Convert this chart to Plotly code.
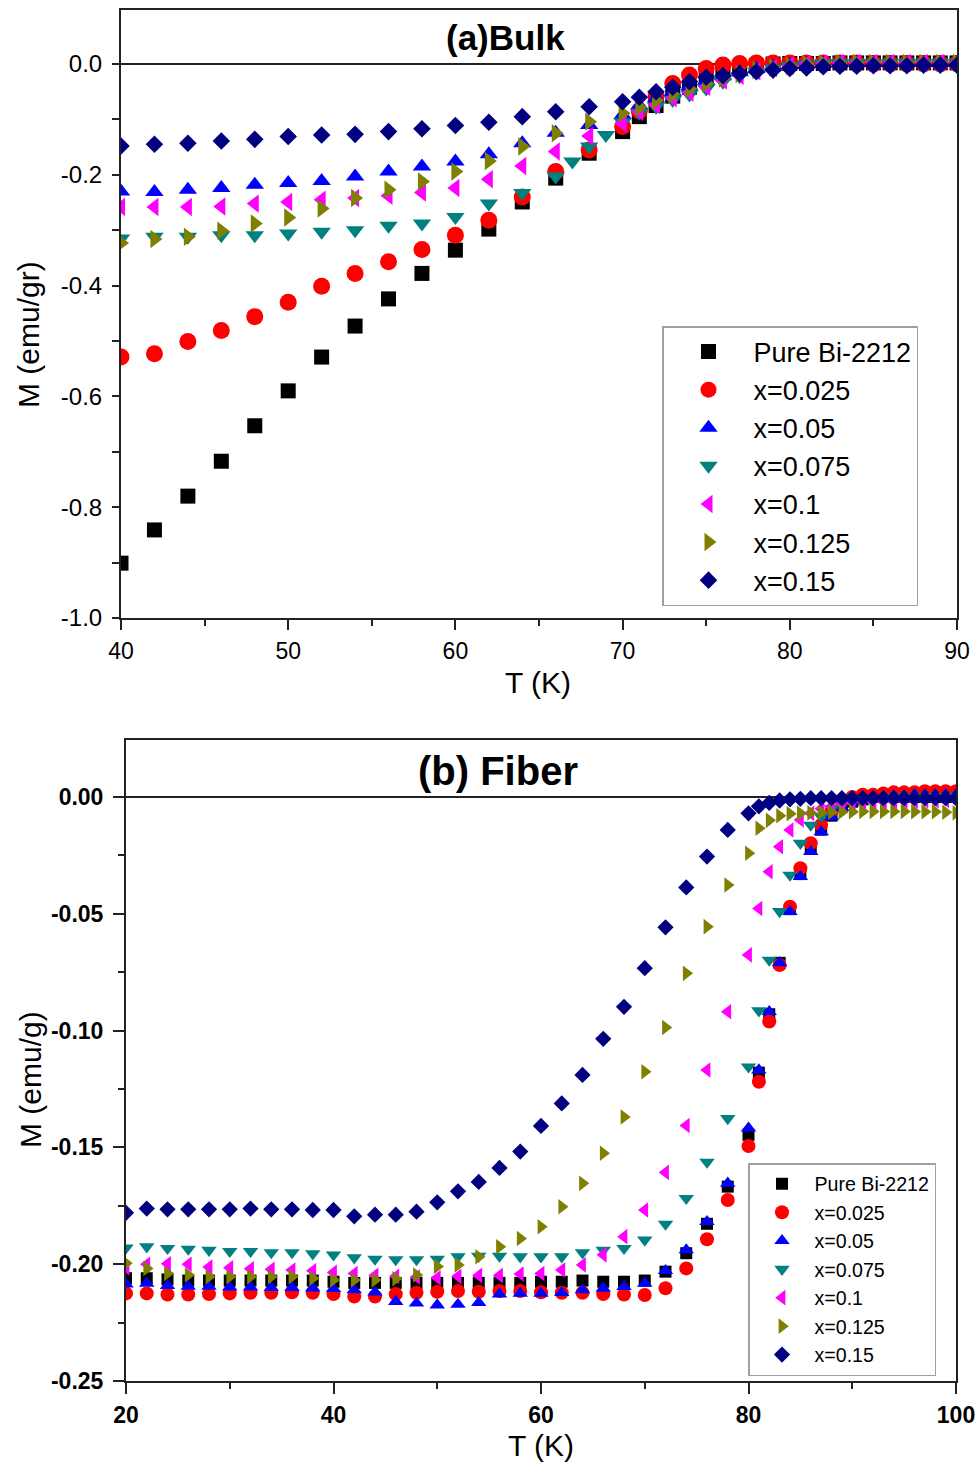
import plotly.graph_objects as go

# ---------------- (a) Bulk samples ----------------
T_bulk = [40, 42, 44, 46, 48, 50, 52, 54, 56, 58, 60, 62, 64, 66, 67, 68, 69, 70,
          71, 72, 73, 74, 75, 76, 77, 78, 79, 80, 81, 82, 83, 84, 85, 86, 87, 88, 89, 90]

M_bulk_pure = [-0.901, -0.841, -0.780, -0.717, -0.653, -0.590, -0.529, -0.473, -0.424, -0.378,
               -0.336, -0.298, -0.249, -0.206, None, -0.161, None, -0.122,
               -0.095, -0.075, -0.058, -0.042, -0.028, -0.016, -0.008, -0.003, 0.000, 0.001,
               0.001, 0.001, 0.002, 0.002, 0.002, 0.002, 0.002, 0.002, 0.002, 0.002]
M_bulk_025 = [-0.529, -0.523, -0.501, -0.481, -0.456, -0.430, -0.401, -0.378, -0.357, -0.335,
              -0.309, -0.282, -0.240, -0.194, None, -0.155, None, -0.113,
              -0.085, -0.058, -0.035, -0.020, -0.008, -0.002, 0.001, 0.002, 0.002, 0.002,
              0.002, 0.002, 0.002, 0.002, 0.001, 0.001, 0.001, 0.001, 0.001, 0.001]
M_bulk_050 = [-0.230, -0.231, -0.227, -0.224, -0.218, -0.215, -0.211, -0.203, -0.194, -0.185,
              -0.176, -0.163, -0.143, -0.124, None, -0.110, None, -0.092,
              -0.075, -0.062, -0.050, -0.040, -0.030, -0.022, -0.015, -0.009, -0.005, -0.002,
              0.000, 0.001, 0.002, 0.002, 0.002, 0.002, 0.002, 0.002, 0.002, 0.002]
M_bulk_075 = [-0.315, -0.312, -0.312, -0.309, -0.309, -0.306, -0.303, -0.300, -0.292, -0.288,
              -0.276, -0.252, -0.233, -0.203, -0.176, -0.149, -0.128, -0.105,
              -0.088, -0.077, -0.065, -0.055, -0.044, -0.032, -0.022, -0.014, -0.008, -0.004,
              -0.001, 0.001, 0.002, 0.002, 0.002, 0.002, 0.002, 0.002, 0.002, 0.002]
M_bulk_100 = [-0.258, -0.258, -0.258, -0.257, -0.252, -0.249, -0.245, -0.242, -0.238, -0.232,
              -0.224, -0.208, -0.184, -0.158, None, -0.130, None, -0.107,
              -0.086, -0.074, -0.062, -0.052, -0.041, -0.030, -0.021, -0.013, -0.007, -0.003,
              0.000, 0.001, 0.002, 0.002, 0.002, 0.002, 0.002, 0.002, 0.002, 0.002]
M_bulk_125 = [-0.323, -0.316, -0.312, -0.301, -0.288, -0.277, -0.261, -0.242, -0.227, -0.212,
              -0.194, -0.175, -0.149, -0.125, None, -0.104, None, -0.089,
              -0.078, -0.066, -0.055, -0.045, -0.035, -0.026, -0.018, -0.011, -0.006, -0.003,
              0.000, 0.001, 0.002, 0.002, 0.002, 0.002, 0.002, 0.002, 0.002, 0.002]
M_bulk_150 = [-0.148, -0.145, -0.143, -0.139, -0.136, -0.131, -0.128, -0.127, -0.122, -0.117,
              -0.111, -0.105, -0.095, -0.086, None, -0.077, None, -0.068,
              -0.060, -0.050, -0.042, -0.032, -0.024, -0.021, -0.017, -0.014, -0.011, -0.008,
              -0.007, -0.005, -0.004, -0.004, -0.003, -0.003, -0.003, -0.002, -0.002, -0.002]

# ---------------- (b) Fiber samples ----------------
T_fiber = [20, 22, 24, 26, 28, 30, 32, 34, 36, 38, 40, 42, 44, 46, 48, 50, 52, 54, 56, 58,
           60, 62, 64, 66, 68, 70, 72, 74, 76, 78, 80,
           81, 82, 83, 84, 85, 86, 87, 88, 89, 90, 91, 92, 93, 94, 95, 96, 97, 98, 99, 100]

M_fiber_pure = [-0.2060, -0.2060, -0.2065, -0.2070, -0.2070, -0.2070, -0.2070, -0.2070, -0.2070, -0.2070,
                -0.2075, -0.2080, -0.2080, -0.2080, -0.2080, -0.2080, -0.2080, -0.2080, -0.2080, -0.2080,
                -0.2075, -0.2075, -0.2070, -0.2075, -0.2075, -0.2070, -0.2032, -0.1953, -0.1827, -0.1668, -0.1446,
                -0.1180, -0.0930, -0.0710, -0.0480, -0.0330, -0.0220, -0.0140, -0.0080, -0.0040, -0.0020,
                -0.0010, 0.0000, 0.0000, 0.0000, 0.0000, 0.0000, 0.0000, 0.0000, 0.0000, 0.0000]
M_fiber_025 = [-0.2125, -0.2125, -0.2130, -0.2130, -0.2128, -0.2125, -0.2122, -0.2122, -0.2120, -0.2122,
               -0.2128, -0.2138, -0.2138, -0.2128, -0.2122, -0.2118, -0.2115, -0.2118, -0.2115, -0.2115,
               -0.2120, -0.2122, -0.2122, -0.2128, -0.2130, -0.2132, -0.2103, -0.2018, -0.1893, -0.1725, -0.1494,
               -0.1219, -0.0961, -0.0719, -0.0470, -0.0305, -0.0198, -0.0120, -0.0060, -0.0020, 0.0000,
               0.0010, 0.0010, 0.0015, 0.0020, 0.0020, 0.0020, 0.0025, 0.0025, 0.0025, 0.0025]
M_fiber_050 = [-0.2085, -0.2082, -0.2092, -0.2095, -0.2095, -0.2098, -0.2098, -0.2100, -0.2100, -0.2102,
               -0.2105, -0.2110, -0.2120, -0.2160, -0.2167, -0.2175, -0.2172, -0.2165, -0.2128, -0.2125,
               -0.2125, -0.2122, -0.2110, -0.2103, -0.2096, -0.2082, -0.2028, -0.1939, -0.1818, -0.1654, -0.1418,
               -0.1169, -0.0919, -0.0710, -0.0491, -0.0341, -0.0234, -0.0149, -0.0085, -0.0045, -0.0020,
               -0.0010, 0.0000, 0.0000, 0.0005, 0.0005, 0.0010, 0.0010, 0.0010, 0.0010, 0.0010]
M_fiber_075 = [-0.1930, -0.1925, -0.1932, -0.1935, -0.1940, -0.1945, -0.1945, -0.1950, -0.1950, -0.1955,
               -0.1960, -0.1972, -0.1978, -0.1980, -0.1980, -0.1978, -0.1968, -0.1965, -0.1965, -0.1968,
               -0.1968, -0.1968, -0.1951, -0.1940, -0.1932, -0.1896, -0.1828, -0.1718, -0.1563, -0.1376, -0.1155,
               -0.0915, -0.0698, -0.0490, -0.0334, -0.0198, -0.0120, -0.0084, -0.0050, -0.0030, -0.0020,
               -0.0010, -0.0010, -0.0005, 0.0000, 0.0000, 0.0000, 0.0000, 0.0000, 0.0000, 0.0000]
M_fiber_100 = [-0.2015, -0.2000, -0.1998, -0.2000, -0.2012, -0.2015, -0.2020, -0.2022, -0.2025, -0.2028,
               -0.2035, -0.2040, -0.2048, -0.2052, -0.2055, -0.2058, -0.2052, -0.2048, -0.2048, -0.2042,
               -0.2040, -0.2025, -0.2003, -0.1960, -0.1882, -0.1768, -0.1607, -0.1406, -0.1169, -0.0919, -0.0676,
               -0.0477, -0.0320, -0.0213, -0.0141, -0.0098, -0.0070, -0.0050, -0.0040, -0.0030, -0.0025,
               -0.0020, -0.0020, -0.0020, -0.0020, -0.0018, -0.0018, -0.0016, -0.0016, -0.0015, -0.0015]
M_fiber_125 = [-0.1996, -0.2018, -0.2040, -0.2046, -0.2054, -0.2054, -0.2054, -0.2054, -0.2054, -0.2060,
               -0.2068, -0.2068, -0.2068, -0.2062, -0.2046, -0.2010, -0.2003, -0.1968, -0.1925, -0.1890,
               -0.1840, -0.1754, -0.1654, -0.1525, -0.1370, -0.1176, -0.0987, -0.0755, -0.0555, -0.0377, -0.0241,
               -0.0134, -0.0100, -0.0080, -0.0072, -0.0070, -0.0068, -0.0066, -0.0065, -0.0064, -0.0063,
               -0.0062, -0.0062, -0.0062, -0.0062, -0.0062, -0.0063, -0.0063, -0.0063, -0.0065, -0.0068]
M_fiber_150 = [-0.1780, -0.1762, -0.1765, -0.1765, -0.1765, -0.1765, -0.1762, -0.1765, -0.1765, -0.1768,
               -0.1768, -0.1795, -0.1788, -0.1788, -0.1775, -0.1735, -0.1688, -0.1648, -0.1588, -0.1518,
               -0.1408, -0.1312, -0.1190, -0.1035, -0.0898, -0.0733, -0.0558, -0.0387, -0.0255, -0.0141, -0.0070,
               -0.0040, -0.0025, -0.0015, -0.0010, -0.0008, -0.0005, -0.0005, -0.0005, -0.0005, -0.0005,
               -0.0005, -0.0005, -0.0005, -0.0005, -0.0005, -0.0005, -0.0005, -0.0005, -0.0005, -0.0005]

series_names = ["Pure Bi-2212", "x=0.025", "x=0.05", "x=0.075", "x=0.1", "x=0.125", "x=0.15"]
series_colors = ["#000000", "#ff0000", "#0000ff", "#008080", "#ff00ff", "#808000", "#000080"]
series_symbols = ["square", "circle", "triangle-up", "triangle-down",
                  "triangle-left", "triangle-right", "diamond"]

bulk_values = [M_bulk_pure, M_bulk_025, M_bulk_050, M_bulk_075, M_bulk_100, M_bulk_125, M_bulk_150]
fiber_values = [M_fiber_pure, M_fiber_025, M_fiber_050, M_fiber_075, M_fiber_100, M_fiber_125, M_fiber_150]

bulk_xticks = [40, 50, 60, 70, 80, 90]
bulk_yticks = [0.0, -0.2, -0.4, -0.6, -0.8, -1.0]
bulk_yticktext = ["0.0", "-0.2", "-0.4", "-0.6", "-0.8", "-1.0"]
fiber_xticks = [20, 40, 60, 80, 100]
fiber_yticks = [0.0, -0.05, -0.10, -0.15, -0.20, -0.25]
fiber_yticktext = ["0.00", "-0.05", "-0.10", "-0.15", "-0.20", "-0.25"]

FONT = "Liberation Sans, Arial, Helvetica, sans-serif"
W, H = 978, 1468

def px_x(p):
    return p / W

def px_y(p):
    return 1 - p / H

bulk_sizes = {"square": 15, "circle": 17, "triangle-up": 16, "triangle-down": 16,
              "triangle-left": 16, "triangle-right": 16, "diamond": 13.5}
fiber_sizes = {"square": 12, "circle": 14, "triangle-up": 13.5, "triangle-down": 13.5,
               "triangle-left": 13.5, "triangle-right": 13.5, "diamond": 12.5}

fig = go.Figure()

for name, col, sym, vals in zip(series_names, series_colors, series_symbols, bulk_values):
    fig.add_trace(go.Scatter(
        x=T_bulk, y=vals, mode="markers", name=name, legend="legend",
        marker=dict(symbol=sym, color=col, size=bulk_sizes[sym], line=dict(width=0)),
        xaxis="x", yaxis="y",
    ))

for name, col, sym, vals in zip(series_names, series_colors, series_symbols, fiber_values):
    fig.add_trace(go.Scatter(
        x=T_fiber, y=vals, mode="markers", name=name, legend="legend2",
        marker=dict(symbol=sym, color=col, size=fiber_sizes[sym], line=dict(width=0)),
        xaxis="x2", yaxis="y2",
    ))

axis_common = dict(showline=True, linecolor="#222222", linewidth=2, mirror=True,
                   showgrid=False, ticks="outside", tickcolor="#222222", tickwidth=2,
                   zeroline=False, automargin=False)

fig.update_layout(
    width=W, height=H, autosize=False,
    margin=dict(l=0, r=0, t=0, b=0, pad=0, autoexpand=False),
    paper_bgcolor="white", plot_bgcolor="white",
    font=dict(family=FONT, color="black"),
    xaxis=dict(domain=[px_x(121), px_x(957)], range=[40, 90], anchor="y",
               tickvals=bulk_xticks, ticklen=10, ticklabelstandoff=1,
               minor=dict(dtick=5, tick0=45, ticks="outside", ticklen=6, tickwidth=2, tickcolor="#222222"),
               tickfont=dict(size=23), **axis_common),
    yaxis=dict(domain=[px_y(618), px_y(10)], range=[-1.0, 0.0975], anchor="x",
               tickvals=bulk_yticks, ticktext=bulk_yticktext, ticklen=7, ticklabelstandoff=5,
               minor=dict(dtick=0.1, tick0=-0.1, ticks="outside", ticklen=7, tickwidth=2, tickcolor="#222222"),
               tickfont=dict(size=24), **axis_common),
    xaxis2=dict(domain=[px_x(126), px_x(956)], range=[20, 100], anchor="y2",
                tickvals=fiber_xticks, ticklen=11, ticklabelstandoff=1,
                minor=dict(dtick=10, tick0=30, ticks="outside", ticklen=6, tickwidth=2, tickcolor="#222222"),
                tickfont=dict(size=23, weight="bold"), **axis_common),
    yaxis2=dict(domain=[px_y(1381), px_y(740)], range=[-0.25, 0.0244], anchor="x2",
                tickvals=fiber_yticks, ticktext=fiber_yticktext, ticklen=11, ticklabelstandoff=5,
                minor=dict(dtick=0.025, tick0=-0.025, ticks="outside", ticklen=6, tickwidth=2, tickcolor="#222222"),
                tickfont=dict(size=23, weight="bold"), **axis_common),
    legend=dict(x=px_x(662), y=px_y(326), xanchor="left", yanchor="top",
                bgcolor="white", bordercolor="#a0a0a0", borderwidth=1.5,
                font=dict(size=27, family=FONT), itemwidth=80, tracegroupgap=0),
    legend2=dict(x=px_x(748), y=px_y(1163), xanchor="left", yanchor="top",
                 bgcolor="white", bordercolor="#a0a0a0", borderwidth=1.5,
                 font=dict(size=19.6, family=FONT), itemwidth=55, tracegroupgap=0),
    showlegend=True,
)

# zero reference lines across each panel
fig.add_shape(type="line", xref="x domain", yref="y", x0=0, x1=1, y0=0, y1=0,
              line=dict(color="#222222", width=2), layer="below")
fig.add_shape(type="line", xref="x2 domain", yref="y2", x0=0, x1=1, y0=0, y1=0,
              line=dict(color="#222222", width=2), layer="below")

annotations = [
    dict(text="<b>(a)Bulk</b>", x=px_x(505), y=px_y(38), font=dict(size=35)),
    dict(text="<b>(b) Fiber</b>", x=px_x(498), y=px_y(771), font=dict(size=40)),
    dict(text="T (K)", x=px_x(538), y=px_y(683), font=dict(size=30)),
    dict(text="T (K)", x=px_x(541), y=px_y(1445), font=dict(size=30)),
    dict(text="M (emu/gr)", x=px_x(28), y=px_y(335), font=dict(size=30), textangle=-90),
    dict(text="M (emu/g)", x=px_x(30), y=px_y(1080), font=dict(size=30), textangle=-90),
]
for a in annotations:
    fig.add_annotation(xref="paper", yref="paper", xanchor="center", yanchor="middle",
                       showarrow=False, **a)

fig.write_html("out.html")
